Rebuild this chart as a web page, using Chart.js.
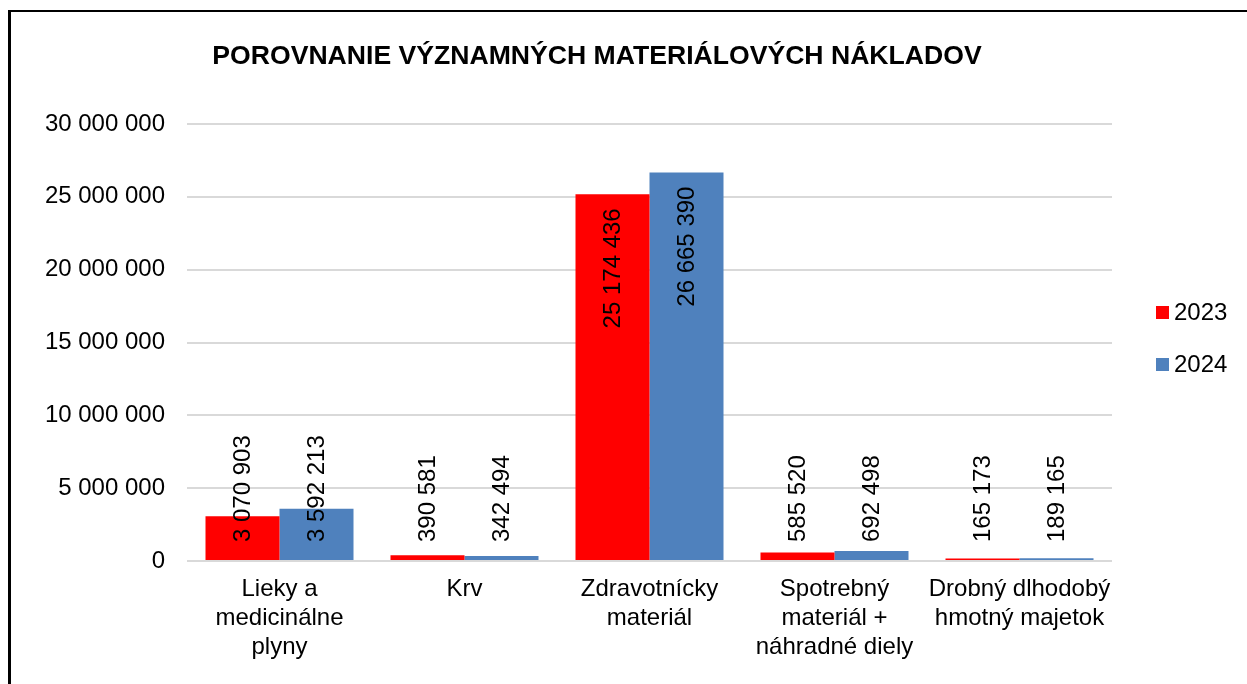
<!DOCTYPE html>
<html lang="sk">
<head>
<meta charset="utf-8">
<title>Porovnanie významných materiálových nákladov</title>
<script src="https://cdn.jsdelivr.net/npm/chart.js@4/dist/chart.umd.min.js"></script>
<style>
  html, body { margin: 0; padding: 0; background: #fff; overflow: hidden; }
  #frame {
    position: absolute; left: 8px; top: 10px; width: 1400px; height: 800px;
    border-left: 3px solid #000; border-top: 2px solid #000; box-sizing: border-box;
  }
  #chart { position: absolute; left: 0; top: 0; }
</style>
</head>
<body>
<div id="frame"></div>
<canvas id="chart" width="1247" height="684"></canvas>
<script>
// Chart content
const chartTitle = 'POROVNANIE VÝZNAMNÝCH MATERIÁLOVÝCH NÁKLADOV';
const categories = [
  ['Lieky a', 'medicinálne', 'plyny'],
  'Krv',
  ['Zdravotnícky', 'materiál'],
  ['Spotrebný', 'materiál +', 'náhradné diely'],
  ['Drobný dlhodobý', 'hmotný majetok']
];
const seriesNames = ['2023', '2024'];
const values2023 = [3070903, 390581, 25174436, 585520, 165173];
const values2024 = [3592213, 342494, 26665390, 692498, 189165];
const yTickValues = [0, 5000000, 10000000, 15000000, 20000000, 25000000, 30000000];

const seriesColors = ['#ff0000', '#4f81bd'];
const FONT = '"Liberation Sans", Arial, sans-serif';

// thousands separated by spaces: 25 174 436
function fmt(v) {
  return String(Math.round(v)).replace(/\B(?=(\d{3})+(?!\d))/g, ' ');
}

// vertical value labels: at the top inside the bar when they fit, otherwise near the base
const valueLabelPlugin = {
  id: 'valueLabels',
  afterDatasetsDraw(chart) {
    const ctx = chart.ctx;
    ctx.save();
    ctx.font = '24px ' + FONT;
    ctx.fillStyle = '#000';
    ctx.textBaseline = 'middle';
    chart.data.datasets.forEach((ds, di) => {
      const meta = chart.getDatasetMeta(di);
      meta.data.forEach((bar, i) => {
        const text = fmt(ds.data[i]);
        const w = ctx.measureText(text).width;
        const h = bar.base - bar.y;
        ctx.save();
        if (h >= w + 28) {
          ctx.translate(bar.x + 1, bar.y + 14);
          ctx.rotate(-Math.PI / 2);
          ctx.textAlign = 'right';
        } else {
          ctx.translate(bar.x + 1, bar.base - 18);
          ctx.rotate(-Math.PI / 2);
          ctx.textAlign = 'left';
        }
        ctx.fillText(text, 0, 0);
        ctx.restore();
      });
    });
    ctx.restore();
  }
};

// heading above the plot
const headingPlugin = {
  id: 'heading',
  afterDraw(chart) {
    const ctx = chart.ctx;
    ctx.save();
    ctx.font = 'bold 26.6px ' + FONT;
    ctx.fillStyle = '#000';
    ctx.textAlign = 'center';
    ctx.textBaseline = 'alphabetic';
    ctx.fillText(chartTitle, 597, 64);
    ctx.restore();
  }
};

// legend to the right of the plot, built from the datasets
const sideLegendPlugin = {
  id: 'sideLegend',
  afterDraw(chart) {
    const { ctx, chartArea } = chart;
    const box = 13, gap = 52;
    const x = chartArea.right + 44;
    const midY = (chartArea.top + chartArea.bottom) / 2 - 4;
    const n = chart.data.datasets.length;
    ctx.save();
    ctx.font = '24px ' + FONT;
    ctx.textBaseline = 'alphabetic';
    ctx.textAlign = 'left';
    chart.data.datasets.forEach((ds, i) => {
      const cy = midY + (i - (n - 1) / 2) * gap;
      ctx.fillStyle = ds.backgroundColor;
      ctx.fillRect(x, cy - box / 2, box, box);
      ctx.fillStyle = '#000';
      ctx.fillText(ds.label, x + 18, cy + box / 2 + 0.5);
    });
    ctx.restore();
  }
};

new Chart(document.getElementById('chart'), {
  type: 'bar',
  data: {
    labels: categories,
    datasets: [
      { label: seriesNames[0], data: values2023, backgroundColor: seriesColors[0] },
      { label: seriesNames[1], data: values2024, backgroundColor: seriesColors[1] }
    ]
  },
  options: {
    responsive: false,
    animation: false,
    devicePixelRatio: 1,
    layout: { padding: { left: 10, right: 135, top: 124, bottom: 0 } },
    datasets: { bar: { categoryPercentage: 0.8, barPercentage: 1.0 } },
    plugins: {
      legend: { display: false },
      title: { display: false },
      tooltip: { enabled: false }
    },
    scales: {
      x: {
        grid: { display: false, drawTicks: false },
        border: { display: false },
        ticks: {
          font: { size: 24, family: FONT, lineHeight: 1.2 },
          color: '#000', padding: 14, maxRotation: 0, autoSkip: false
        },
        afterFit(scale) { scale.height = 123; }
      },
      y: {
        min: 0, max: 30000000,
        grid: { color: '#d9d9d9', lineWidth: 2, drawTicks: false },
        border: { display: false },
        ticks: {
          font: { size: 24, family: FONT },
          color: '#000', padding: 22,
          callback: v => fmt(v)
        },
        afterBuildTicks(scale) { scale.ticks = yTickValues.map(v => ({ value: v })); },
        afterFit(scale) { scale.width = 177; }
      }
    }
  },
  plugins: [valueLabelPlugin, headingPlugin, sideLegendPlugin]
});
</script>
</body>
</html>
